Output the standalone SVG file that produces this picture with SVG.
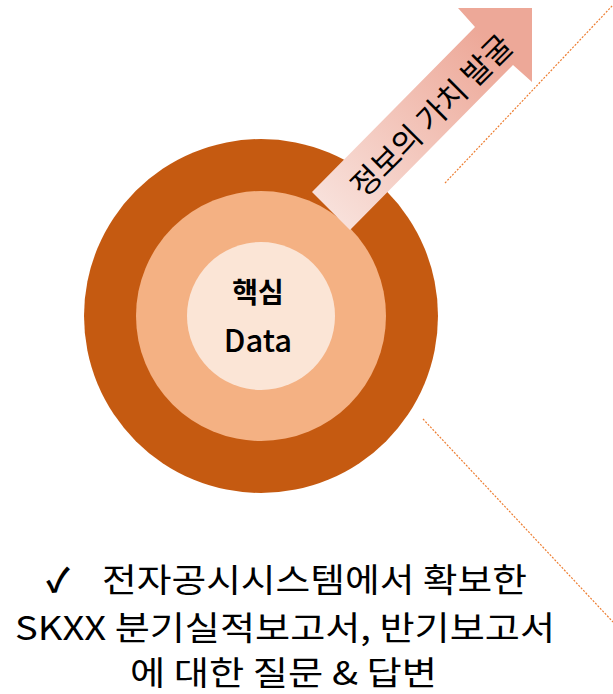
<svg xmlns="http://www.w3.org/2000/svg" width="613" height="694" viewBox="0 0 613 694">
<defs>
<linearGradient id="ag" gradientUnits="userSpaceOnUse" x1="331" y1="211" x2="495" y2="45">
<stop offset="0" stop-color="#f8e0da"/>
<stop offset="1" stop-color="#eda898"/>
</linearGradient>
</defs>
<style>
.t{font-family:"Noto Sans CJK KR","Noto Sans",sans-serif;fill:#000}
.cap{font-size:33px}
.dash{stroke:#ed7d31;stroke-width:1.2;stroke-dasharray:2 1.5;fill:none}
</style>
<rect width="613" height="694" fill="#fff"/>
<g id="rings">
<circle cx="261" cy="316" r="177" fill="#c55a11"/>
<circle cx="261" cy="316" r="125" fill="#f4b183"/>
<circle cx="261" cy="316" r="74" fill="#fbe5d6"/>
<text class="t" x="258" y="303" font-size="28" font-weight="bold" text-anchor="middle">핵심</text>
<text class="t" x="258" y="352" font-size="31" font-weight="500" text-anchor="middle">Data</text>
</g>
<g id="arrow">
<polygon points="312,192 475,27 458,8 532,8 532,82 513,65 350,230" fill="url(#ag)"/>
<text class="t" x="0" y="0" font-size="31" text-anchor="middle" transform="translate(430,114) rotate(-45)" dominant-baseline="central">정보의 가치 발굴</text>
</g>
<g id="connectors">
<line class="dash" x1="445" y1="183" x2="613" y2="5"/>
<line class="dash" x1="423" y1="419" x2="613" y2="622"/>
</g>
<g id="caption">
<text class="t cap" x="46" y="592" font-weight="bold">✓</text>
<text class="t cap" x="102" y="592" textLength="425" lengthAdjust="spacingAndGlyphs">전자공시시스템에서 확보한</text>
<text class="t cap" x="15" y="640" textLength="540" lengthAdjust="spacingAndGlyphs">SKXX 분기실적보고서, 반기보고서</text>
<text class="t cap" x="130" y="685" textLength="307" lengthAdjust="spacingAndGlyphs">에 대한 질문 &amp; 답변</text>
</g>
</svg>
